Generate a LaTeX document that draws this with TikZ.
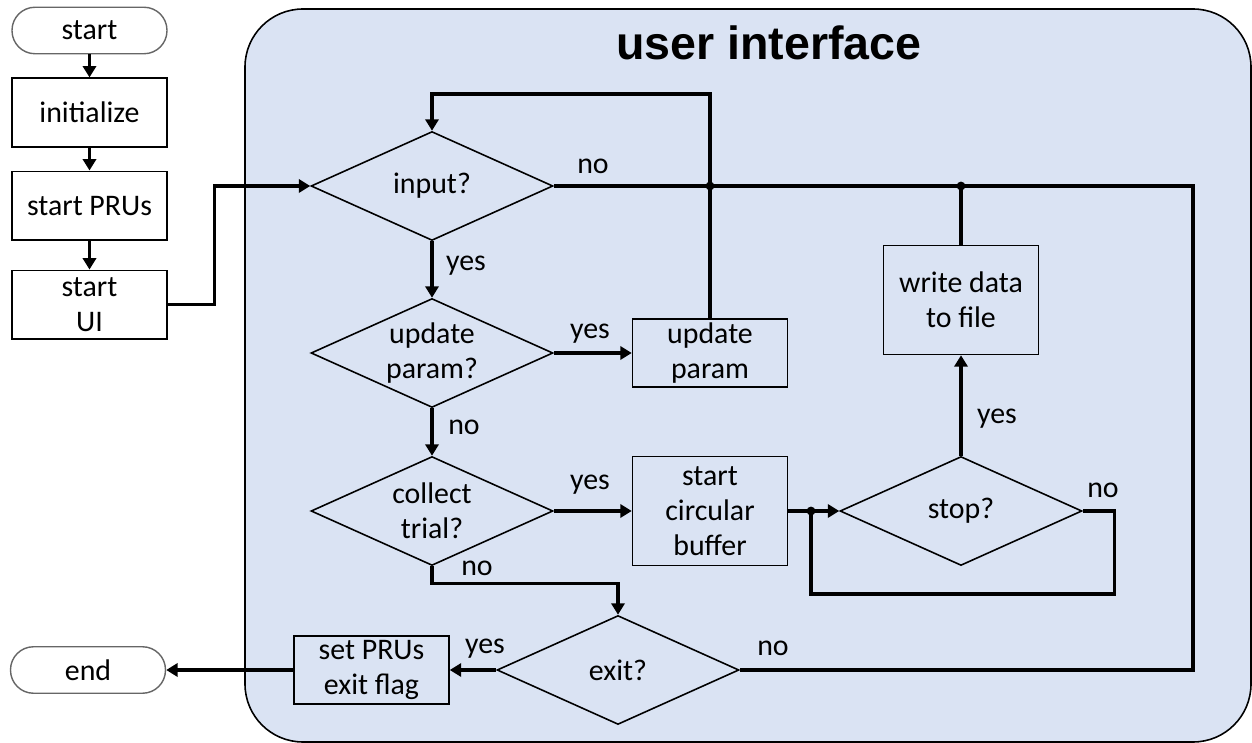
\documentclass[tikz,border=0pt]{standalone}
\usepackage{fontspec}
\setmainfont{Carlito}
\newfontfamily\titlefont{Liberation Sans}
\usepackage{xcolor}
\usetikzlibrary{arrows.meta,positioning,shapes.geometric}
\definecolor{uiblue}{HTML}{DAE3F3}
\newcommand{\flowfont}{\fontsize{17pt}{20pt}\selectfont}

\begin{document}
\begin{tikzpicture}[
 x=0.02cm,y=-0.02cm,
 node distance=0.46cm,
 box/.style={draw,line width=0.9pt,align=center,font=\flowfont,
 minimum width=3.1cm,minimum height=1.37cm,inner sep=1pt},
 tallbox/.style={box,minimum height=2.18cm},
 term/.style={draw=black!60,line width=0.8pt,fill=white,rounded corners=0.46cm,
 font=\flowfont,minimum width=3.1cm,minimum height=0.93cm},
 decide/.style={diamond,draw,line width=0.9pt,align=center,font=\flowfont,
 aspect=2.2,inner sep=0pt,minimum width=4.84cm,minimum height=2.18cm},
 lbl/.style={font=\flowfont,inner sep=0pt},
 wire/.style={line width=1.9pt},
 arr/.style={wire,-{Triangle[length=6.5pt,width=7.5pt]}}]
\useasboundingbox (0,0) rectangle (1252,743);

% user interface area
\draw[fill=uiblue,line width=0.9pt,rounded corners=1.16cm] (245,9) rectangle (1251,742);
\node[anchor=base,font=\titlefont\bfseries\fontsize{26.5pt}{30pt}\selectfont] (title) at (769,60) {user interface};

% main program
\node[term] (start) at (89.5,30.5) {start};
\node[box,below=of start] (init) {initialize};
\node[box,below=of init] (prus) {start PRUs};
\node[box,below=0.58cm of prus] (ui) {start\\UI};
\node[term] (end) at (88,670) {end};
\node[box] (setprus) at (371.5,670) {set PRUs\\exit flag};

% decisions and actions
\node[decide] (input) at (432,186) {input?};
\node[decide] (updq) at (432,353) {update\\param?};
\node[decide] (collq) at (432,511) {collect\\trial?};
\node[decide] (exitq) at (618,670) {exit?};
\node[decide] (stopq) at (961,511) {stop?};
\node[box] (updbox) at (710,353) {update\\param};
\node[tallbox] (buffer) at (710,511) {start\\circular\\buffer};
\node[tallbox] (write) at (961,300) {write data\\to file};

\coordinate (j1) at (710,186);
\coordinate (j2) at (961,186);
\coordinate (j3) at (811,511);
\coordinate (rc) at (1193,186);

\draw[arr] (start) -- (init);
\draw[arr] (init) -- (prus);
\draw[arr] (prus) -- (ui);
\draw[arr] (ui.east) -- ++(47,0) |- (input.west);
\draw[arr] (input) -- (updq);
\draw[arr] (updq) -- (updbox);
\draw[arr] (updq) -- (collq);
\draw[arr] (collq) -- (buffer);
\draw[arr] (collq.south) -- ++(0,17) -| (exitq.north);
\draw[arr] (exitq) -- (setprus);
\draw[arr] (setprus) -- (end);
\draw[arr] (buffer) -- (stopq);
\draw[wire] (stopq.east) -- ++(32,0) -- ++(0,83) -| (j3);
\draw[arr] (stopq) -- (write);
\draw[wire] (write) -- (j2);
\draw[wire] (updbox) -- (j1);
\draw[wire] (input) -- (j1);
\draw[wire] (exitq.east) -| (rc) -- (j1);
\draw[arr] (j1) -- ++(0,-92) -| (input.north);
\fill (j1) circle (2.5pt);
\fill (j2) circle (2.5pt);
\fill (j3) circle (2.5pt);

% branch labels
\node[lbl] (inno) at (593,166) {no};
\node[lbl] (inyes) at (466,266) {yes};
\node[lbl] (updyes) at (590,334) {yes};
\node[lbl] (updno) at (464,427) {no};
\node[lbl] (colyes) at (590,485) {yes};
\node[lbl] (colno) at (477,568) {no};
\node[lbl] (exyes) at (485,649) {yes};
\node[lbl] (exno) at (773,648) {no};
\node[lbl] (stno) at (1103,490) {no};
\node[lbl] (styes) at (997,419) {yes};
\end{tikzpicture}
\end{document}
